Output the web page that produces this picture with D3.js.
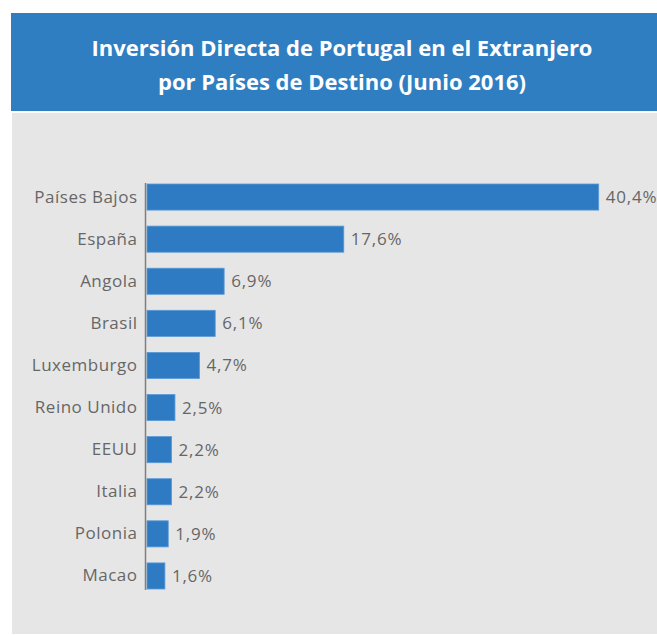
<!DOCTYPE html>
<html><head><meta charset="utf-8">
<script src="https://cdn.jsdelivr.net/npm/d3@7"></script>
<style>html,body{margin:0;padding:0;background:#fff;}svg{display:block;}</style>
</head><body>
<svg id="c" width="657" height="635"></svg>
<script>
const categories = ["Países Bajos","España","Angola","Brasil","Luxemburgo","Reino Unido","EEUU","Italia","Polonia","Macao"];
const values = [40.4,17.6,6.9,6.1,4.7,2.5,2.2,2.2,1.9,1.6];
const valueLabels = ["40,4%","17,6%","6,9%","6,1%","4,7%","2,5%","2,2%","2,2%","1,9%","1,6%"];
const titleLines = ["Inversión Directa de Portugal en el Extranjero","por Países de Destino (Junio 2016)"];

const svg = d3.select("#c");
const font = "'Open Sans', 'Noto Sans', sans-serif";
svg.append("rect").attr("x",11).attr("y",13).attr("width",646).attr("height",98).attr("fill","#2F7EC2");
svg.append("rect").attr("x",12).attr("y",113).attr("width",645).attr("height",521).attr("fill","#E6E6E6");
svg.append("g").selectAll("text").data(titleLines).join("text")
  .attr("x",342).attr("y",(d,i)=>56+i*34).attr("text-anchor","middle")
  .attr("fill","#fff").attr("font-family",font).attr("font-weight","bold")
  .attr("font-size",22).text(d=>d);

const x0 = 147;
const x = d3.scaleLinear().domain([0,40.4]).range([x0,598.7]);
const y = d3.scaleBand().domain(categories).range([176,597]).paddingInner(0.38).paddingOuter(0.19);

const g = svg.append("g");
g.selectAll("rect.bar").data(values).join("rect").attr("class","bar")
  .attr("x",x(0)).attr("y",(d,i)=>y(categories[i]))
  .attr("width",d=>x(d)-x(0)).attr("height",y.bandwidth())
  .attr("fill","#2E7BC4").attr("stroke","#5A9AD6").attr("stroke-width",0.8);

const axis = d3.axisLeft(y).tickSize(0).tickPadding(8);
const ag = svg.append("g").attr("transform",`translate(${x0-1.5},0)`).call(axis);
ag.select(".domain").remove();
ag.append("line").attr("x1",0).attr("x2",0)
  .attr("y1",y(categories[0])-1).attr("y2",y(categories[categories.length-1])+y.bandwidth()+1)
  .attr("stroke","#7F7F7F").attr("stroke-width",1.5);
ag.selectAll(".tick text").attr("fill","#666").attr("font-family",font).attr("font-size",17)
  .attr("letter-spacing","0.5px");

g.selectAll("text.val").data(values).join("text").attr("class","val")
  .attr("x",d=>x(d)+7).attr("y",(d,i)=>y(categories[i])+y.bandwidth()/2)
  .attr("dy","0.35em").attr("fill","#666").attr("font-family",font).attr("font-size",17)
  .attr("letter-spacing","0.8px")
  .text((d,i)=>valueLabels[i]);
</script>
</body></html>
